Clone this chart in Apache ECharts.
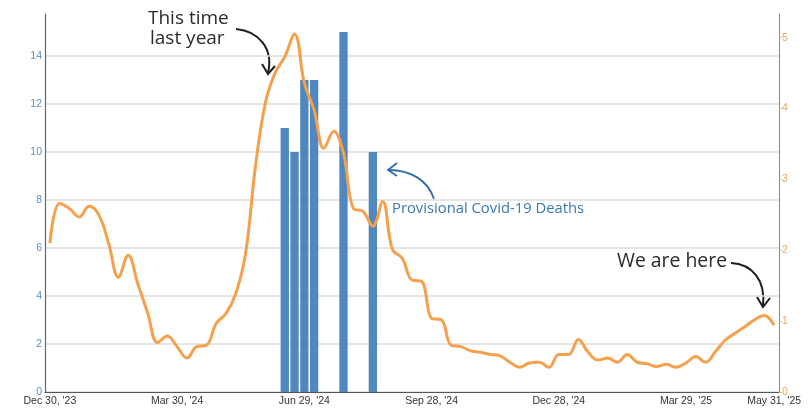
<!DOCTYPE html>
<html>
<head>
<meta charset="utf-8">
<script src="https://cdn.jsdelivr.net/npm/echarts@6/dist/echarts.min.js"></script>
<style>
html,body{margin:0;padding:0;background:#fff;}
#chart{width:808px;height:412px;}
</style>
</head>
<body>
<div id="chart"></div>
<script>
// Weekly dates, Dec 30 2023 .. May 31 2025 (75 weeks)
var startDate = "2023-12-30";
var weekCount = 75;

// Tick labels shown on the x axis (week index -> label)
var tickIndex = [0, 13, 26, 39, 52, 65, 74];
var tickLabels = ["Dec 30, '23", "Mar 30, '24", "Jun 29, '24", "Sep 28, '24", "Dec 28, '24", "Mar 29, '25", "May 31, '25"];

// Provisional Covid-19 deaths (left axis), by week index
var deathWeeks = [24, 25, 26, 27, 30, 33];
var deathValues = [11, 10, 13, 13, 15, 10];

// Level (right axis), one value per week
var levelValues = [
  2.10, 2.66, 2.59, 2.47, 2.62, 2.50, 2.10, 1.62, 1.93, 1.52,
  1.11, 0.70, 0.79, 0.64, 0.48, 0.64, 0.66, 0.97, 1.11, 1.39,
  1.96, 3.18, 4.07, 4.50, 4.73, 5.05, 4.36, 3.98, 3.44, 3.68,
  3.37, 2.59, 2.55, 2.34, 2.69, 2.01, 1.89, 1.58, 1.56, 1.04,
  1.02, 0.66, 0.64, 0.58, 0.56, 0.53, 0.51, 0.42, 0.35, 0.41,
  0.42, 0.35, 0.53, 0.53, 0.74, 0.56, 0.45, 0.48, 0.42, 0.53,
  0.42, 0.40, 0.36, 0.39, 0.35, 0.41, 0.50, 0.42, 0.57, 0.73,
  0.83, 0.92, 1.02, 1.08, 0.94
];

var leftTicks = [0, 2, 4, 6, 8, 10, 12, 14];
var rightTicks = [0, 1, 2, 3, 4, 5];

// build categories
var categories = [];
(function(){
  var d = new Date(startDate + "T00:00:00Z");
  for (var i = 0; i < weekCount; i++) {
    var dd = new Date(d.getTime() + i * 7 * 86400000);
    categories.push(dd.toISOString().slice(0, 10));
  }
})();
var barData = categories.map(function(){ return null; });
deathWeeks.forEach(function(w, k){ barData[w] = deathValues[k]; });

var gridColors = leftTicks.map(function(){ return '#dcdcdc'; });
gridColors.push('rgba(0,0,0,0)');

var chart = echarts.init(document.getElementById('chart'));
var annoFont = '"Open Sans", Lato, "Noto Sans", sans-serif';
var axisFont = 'Liberation Sans, Arial, sans-serif';
function annoText(txt, x, y, size, color) {
  return { type: 'text', z: 100, style: { text: txt, x: x, y: y, font: size + 'px ' + annoFont, fill: color, verticalAlign: 'middle', align: 'left' } };
}
chart.setOption({
  animation: false,
  backgroundColor: '#ffffff',
  grid: { left: 45, right: 29, top: 14, bottom: 20, containLabel: false },
  xAxis: {
    type: 'category',
    data: categories,
    boundaryGap: true,
    axisLine: { lineStyle: { color: '#555', width: 1.2 } },
    axisTick: { show: false },
    axisLabel: {
      interval: function(idx){ return tickIndex.indexOf(idx) >= 0; },
      formatter: function(v, idx){ var k = tickIndex.indexOf(idx); return k >= 0 ? tickLabels[k] : ''; },
      color: '#333', fontSize: 10.5, margin: 4, fontFamily: axisFont
    },
    splitLine: { show: false }
  },
  yAxis: [
    {
      type: 'value', min: 0, max: 15.75, interval: 2, position: 'left',
      axisLine: { show: true, lineStyle: { color: '#666', width: 1.2 } },
      axisTick: { show: false },
      axisLabel: { color: '#5b8dbd', fontSize: 10.5, margin: 3, showMaxLabel: false, fontFamily: axisFont },
      splitLine: { show: true, lineStyle: { color: gridColors, width: 1.5 } }
    },
    {
      type: 'value', min: 0, max: 5.335, interval: 1, position: 'right',
      axisLine: { show: true, lineStyle: { color: '#888', width: 1 } },
      axisTick: { show: true, length: 3, lineStyle: { color: '#e9b27e' } },
      axisLabel: { color: '#e8a45e', fontSize: 10.5, margin: 3, showMaxLabel: false, fontFamily: axisFont },
      splitLine: { show: false }
    }
  ],
  series: [
    {
      name: 'Provisional Covid-19 Deaths',
      type: 'bar', yAxisIndex: 0, data: barData,
      barWidth: '85%',
      itemStyle: { color: '#5087bf' },
      z: 2
    },
    {
      name: 'Level',
      type: 'line', yAxisIndex: 1, data: levelValues,
      smooth: 0.4, symbol: 'none',
      lineStyle: { color: '#f5a04c', width: 3 },
      z: 3
    }
  ],
  graphic: [
    annoText('This time', 148, 19, 19, '#2b2b2b'),
    annoText('last year', 150, 39, 19, '#2b2b2b'),
    { type: 'bezierCurve', shape: { x1: 236, y1: 29, cpx1: 258, cpy1: 31, cpx2: 274, cpy2: 48, x2: 268, y2: 73 }, style: { stroke: '#1f1f1f', lineWidth: 2, fill: null } },
    { type: 'polyline', shape: { points: [[262, 64], [268, 74], [275, 66]] }, style: { stroke: '#1f1f1f', lineWidth: 2, fill: null } },

    annoText('Provisional Covid-19 Deaths', 392, 209, 14.8, '#3a78b2'),
    { type: 'bezierCurve', shape: { x1: 434, y1: 199, cpx1: 428, cpy1: 180, cpx2: 410, cpy2: 170, x2: 389, y2: 170 }, style: { stroke: '#2f6ea8', lineWidth: 1.8, fill: null } },
    { type: 'polyline', shape: { points: [[397, 163], [388, 170], [397, 176]] }, style: { stroke: '#2f6ea8', lineWidth: 1.8, fill: null } },

    annoText('We are here', 617, 261, 19.4, '#2b2b2b'),
    { type: 'bezierCurve', shape: { x1: 731, y1: 263, cpx1: 752, cpy1: 264, cpx2: 766, cpy2: 280, x2: 763, y2: 306 }, style: { stroke: '#1f1f1f', lineWidth: 2, fill: null } },
    { type: 'polyline', shape: { points: [[757, 297], [763, 307], [770, 298]] }, style: { stroke: '#1f1f1f', lineWidth: 2, fill: null } }
  ]
});
</script>
</body>
</html>
